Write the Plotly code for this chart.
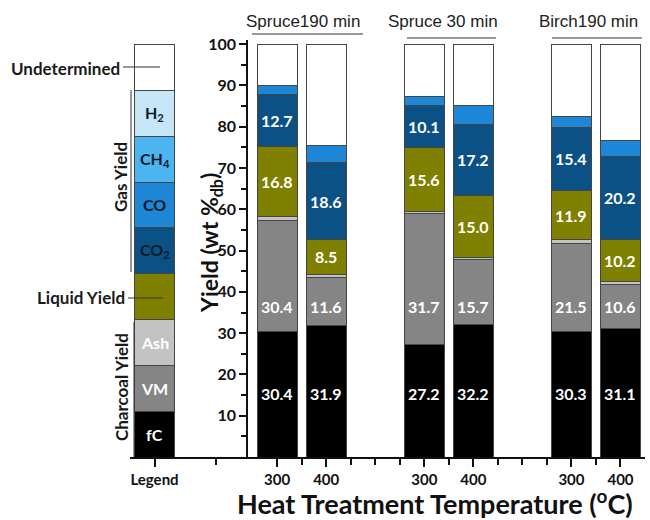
import plotly.graph_objects as go

# ---------------- data ----------------
positions = [0, 5, 7, 11, 13, 17, 19]          # legend bar + six sample bars
tick_text = ["Legend", "300", "400", "300", "400", "300", "400"]
groups = ["Spruce190 min", "Spruce 30 min", "Birch190 min"]

# components bottom -> top ; first entry of every list = legend bar block
fC = [11.1, 30.4, 31.9, 27.2, 32.2, 30.3, 31.1]
VM = [11.1, 26.9, 11.6, 31.7, 15.7, 21.5, 10.6]
Ash = [11.1, 1.0, 0.7, 0.5, 0.5, 0.8, 0.8]
Liquid = [11.1, 16.8, 8.5, 15.6, 15.0, 11.9, 10.2]
CO2 = [11.1, 12.7, 18.6, 10.1, 17.2, 15.4, 20.2]
CO = [11.1, 2.3, 4.1, 2.1, 4.6, 2.5, 3.7]
CH4 = [11.1, None, None, None, None, None, None]
H2 = [11.1, None, None, None, None, None, None]
Undet = [11.1, 9.9, 24.6, 12.8, 14.8, 17.6, 23.4]

# printed labels (as in the original figure), one per sample bar
fC_lbl = ["30.4", "31.9", "27.2", "32.2", "30.3", "31.1"]
VM_lbl = ["30.4", "11.6", "31.7", "15.7", "21.5", "10.6"]
Liq_lbl = ["16.8", "8.5", "15.6", "15.0", "11.9", "10.2"]
CO2_lbl = ["12.7", "18.6", "10.1", "17.2", "15.4", "20.2"]
legend_lbl = ["fC", "VM", "Ash", "", "CO<sub>2</sub>", "CO", "CH<sub>4</sub>", "H<sub>2</sub>", ""]

# ---------------- style ----------------
BOLD = "Lato"
comps = [
    ("fC", fC, "#000000"),
    ("VM", VM, "#858585"),
    ("Ash", Ash, "#c3c3c3"),
    ("Liquid", Liquid, "#7f7f00"),
    ("CO2", CO2, "#0b5186"),
    ("CO", CO, "#1d86d6"),
    ("CH4", CH4, "#4cb4ee"),
    ("H2", H2, "#c6e6f8"),
    ("Undetermined", Undet, "#ffffff"),
]

fig = go.Figure()
for name, vals, col in comps:
    fig.add_trace(go.Bar(
        x=positions, y=vals, name=name, width=1.63,
        marker=dict(color=col, line=dict(color="#454545", width=1)),
        textposition="none", showlegend=False, hoverinfo="skip",
    ))

L, R, T, B = 130, 645, 40, 457
def px(x):
    return (x - L) / (R - L)
def py(y):
    return (B - y) / (B - T)

def txt(x, y, s, size, color="#1a1a1a", xanchor="center", angle=0, family=BOLD, bold=True):
    return dict(x=px(x), y=py(y), xref="paper", yref="paper", text=s, showarrow=False,
                xanchor=xanchor, yanchor="middle", textangle=angle,
                font=dict(family=family, size=size, color=color,
                          weight="bold" if bold else "normal"))

def dlab(xv, yv, s, color="white"):
    return dict(x=xv, y=yv, xref="x", yref="y", text=s, showarrow=False, yanchor="middle",
                font=dict(family=BOLD, size=16, color=color, weight="bold"))

ann = []
for i in range(1, len(positions)):
    k = i - 1
    # fC and VM labels sit at a fixed height in the original
    ann.append(dlab(positions[i], 15.5, fC_lbl[k]))
    ann.append(dlab(positions[i], 36.5, VM_lbl[k]))
    # liquid and CO2 labels are centred in their segments
    base_liq = fC[i] + VM[i] + Ash[i]
    ann.append(dlab(positions[i], base_liq + Liquid[i] / 2, Liq_lbl[k]))
    base_co2 = base_liq + Liquid[i]
    ann.append(dlab(positions[i], base_co2 + CO2[i] / 2, CO2_lbl[k]))

# legend bar labels
leg_vals = [c[1][0] for c in comps]
cum = 0
for j, (c, lab) in enumerate(zip(comps, legend_lbl)):
    mid = cum + leg_vals[j] / 2
    cum += leg_vals[j]
    if lab:
        colr = "white" if c[0] in ("fC", "VM", "Ash") else "#0c1a2b"
        ann.append(dlab(positions[0], mid, lab, colr))

# side texts
ann += [
    txt(122, 68, "Undetermined", 17, xanchor="right"),
    txt(127, 298, "Liquid Yield", 17, xanchor="right"),
    txt(121, 177, "Gas Yield", 17, angle=-90),
    txt(121, 387, "Charcoal Yield", 17, angle=-90),
    txt(210, 243, "Yield (wt %<sub>db</sub>)", 23, color="#111", angle=-90),
    txt(435, 502, "Heat Treatment Temperature (<sup>o</sup>C)", 27, color="#111"),
]
# group headers
hdr_x = [303, 443, 588]
for g, hx in zip(groups, hdr_x):
    ann.append(txt(hx, 21, g, 17, color="#222", family="Liberation Sans", bold=False))

shapes = []
def line(x0, y0, x1, y1):
    shapes.append(dict(type="line", xref="paper", yref="paper", x0=px(x0), y0=py(y0),
                       x1=px(x1), y1=py(y1), line=dict(color="#333", width=1)))
line(252, 34, 363, 34)
line(407, 38, 496, 38)
line(552, 38, 642, 38)
line(123, 67, 160, 67)
line(128, 298, 163, 298)
line(131, 90, 131, 272)
line(134, 322, 134, 457)

fig.update_layout(
    barmode="stack",
    width=650, height=520,
    margin=dict(l=L, r=650 - R, t=T, b=520 - B),
    plot_bgcolor="white", paper_bgcolor="white",
    annotations=ann, shapes=shapes,
    xaxis=dict(range=[-1, 20], tickmode="array", tickvals=positions, ticktext=tick_text,
               ticks="outside", ticklen=8, tickwidth=1.5, tickcolor="#111",
               showline=True, linecolor="#111", linewidth=1.5, showgrid=False, zeroline=False,
               tickfont=dict(family=BOLD, size=15, color="#111", weight="bold"),
               minor=dict(tickmode="array", tickvals=[2.5, 6, 8, 9, 10, 12, 14, 15, 16, 18],
                          ticks="outside", ticklen=6, tickwidth=1.5, tickcolor="#111")),
    yaxis=dict(range=[0, 101], anchor="free", position=px(247), tickmode="array",
               tickvals=[10, 20, 30, 40, 50, 60, 70, 80, 90, 100],
               ticks="outside", ticklen=7, tickwidth=1.5, tickcolor="#111",
               showline=True, linecolor="#111", linewidth=1.5, showgrid=False, zeroline=False,
               tickfont=dict(family=BOLD, size=16, color="#111", weight="bold"),
               minor=dict(tickmode="array", tickvals=[5, 15, 25, 35, 45, 55, 65, 75, 85, 95],
                          ticks="outside", ticklen=5, tickwidth=1.5, tickcolor="#111")),
)

fig.write_html("out.html")
